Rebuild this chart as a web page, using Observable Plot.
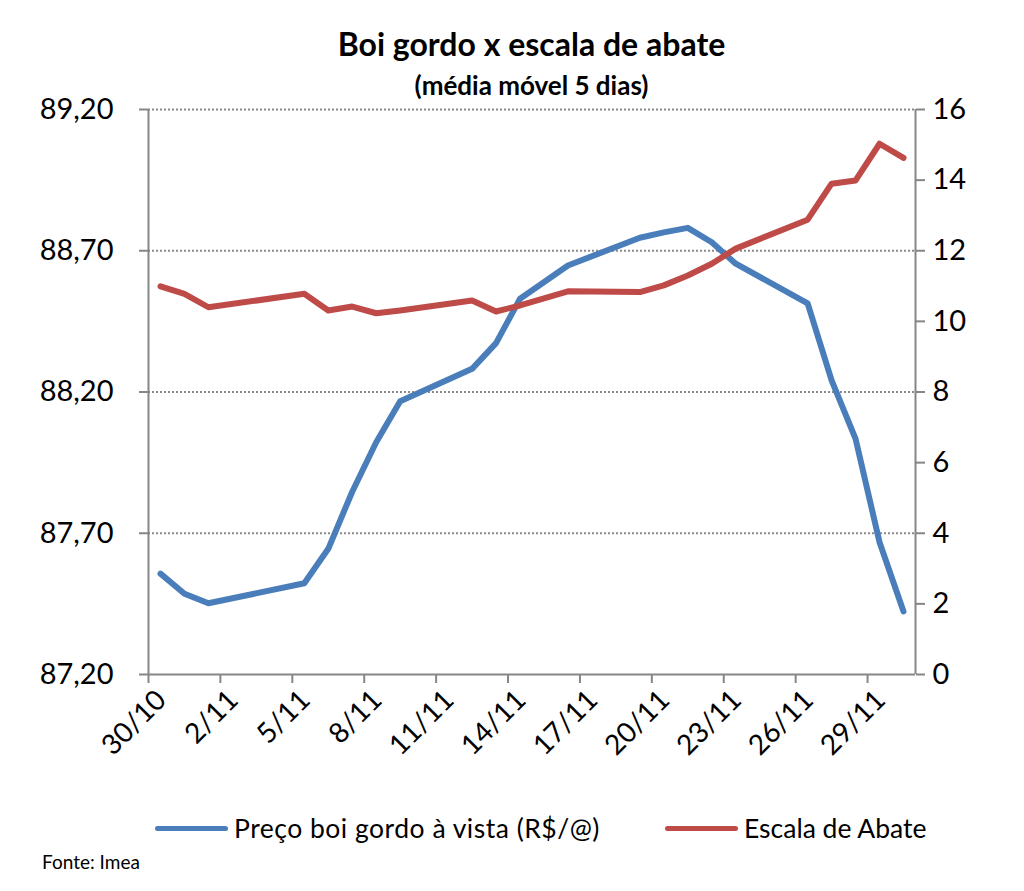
<!DOCTYPE html>
<html>
<head>
<meta charset="utf-8">
<script src="https://cdn.jsdelivr.net/npm/d3@7"></script>
<script src="https://cdn.jsdelivr.net/npm/@observablehq/plot@0.6"></script>
<style>
  html, body { margin: 0; padding: 0; background: #fff; }
  #wrap { position: relative; width: 1024px; height: 891px; font-family: Lato, "Open Sans", sans-serif; color: #000; }
  #title { position: absolute; left: 148px; width: 767px; top: 25px; text-align: center; font-weight: bold; font-size: 32px; line-height: 38px; }
  #subtitle { position: absolute; left: 148px; width: 767px; top: 70px; text-align: center; font-weight: bold; font-size: 26px; line-height: 30px; }
  #chart { position: absolute; left: 0; top: 100px; }
  .leg { position: absolute; top: 812px; display: flex; align-items: center; font-size: 26.5px; line-height: 32px; }
  .sw { width: 73px; height: 5px; border-radius: 3px; margin-right: 6px; }
  #source { position: absolute; left: 42px; top: 850px; font-size: 19px; line-height: 24px; }
</style>
</head>
<body>
<div id="wrap">
  <div id="title">Boi gordo x escala de abate</div>
  <div id="subtitle">(média móvel 5 dias)</div>
  <div id="chart"></div>
  <div class="leg" style="left:155px"><div class="sw" style="background:#4A7EBB"></div><span style="letter-spacing:0.5px">Preço boi gordo à vista (R$/@)</span></div>
  <div class="leg" style="left:665px"><div class="sw" style="background:#BE4B48"></div><span>Escala de Abate</span></div>
  <div id="source">Fonte: Imea</div>
</div>
<script>
// ---- data ----
const dates = ["2012-10-30","2012-10-31","2012-11-01","2012-11-05","2012-11-06","2012-11-07","2012-11-08","2012-11-09",
  "2012-11-12","2012-11-13","2012-11-14","2012-11-16","2012-11-19","2012-11-20","2012-11-21","2012-11-22","2012-11-23",
  "2012-11-26","2012-11-27","2012-11-28","2012-11-29","2012-11-30"];
const preco = [87.557, 87.486, 87.452, 87.523, 87.645, 87.847, 88.022, 88.167,
  88.282, 88.373, 88.530, 88.648, 88.746, 88.765, 88.781, 88.730, 88.654,
  88.514, 88.241, 88.034, 87.668, 87.423];
const escala = [10.99, 10.78, 10.40, 10.78, 10.31, 10.42, 10.23, 10.31,
  10.59, 10.28, 10.45, 10.85, 10.83, 11.02, 11.30, 11.63, 12.06,
  12.88, 13.90, 13.99, 15.03, 14.63];
const leftTicks = [87.2, 87.7, 88.2, 88.7, 89.2];
const rightTicks = [0, 2, 4, 6, 8, 10, 12, 14, 16];
const xTickLabels = ["30/10","2/11","5/11","8/11","11/11","14/11","17/11","20/11","23/11","26/11","29/11"];
const xStart = "2012-10-30", xEnd = "2012-12-01";

// ---- derived ----
const DAY = 864e5;
const parse = s => new Date(s + "T00:00:00Z");
const rows = dates.map((d, i) => ({date: new Date(parse(d).getTime() + DAY / 2), preco: preco[i], escala: escala[i]}));
const leftMin = leftTicks[0], leftMax = leftTicks[leftTicks.length - 1];
const rightMin = rightTicks[0], rightMax = rightTicks[rightTicks.length - 1];
const toLeft = v => leftMin + (v - rightMin) * (leftMax - leftMin) / (rightMax - rightMin);
const fromLeft = p => rightMin + (p - leftMin) * (rightMax - rightMin) / (leftMax - leftMin);
const xTicks = xTickLabels.map(l => { const [d, m] = l.split("/").map(Number); return new Date(Date.UTC(2012, m - 1, d)); });

const axisColor = "#868686";
const chart = Plot.plot({
  width: 1024,
  height: 700,
  marginTop: 9,
  marginBottom: 126,
  marginLeft: 148,
  marginRight: 109,
  style: {fontFamily: "Lato, 'Open Sans', sans-serif", background: "#fff", color: "#000", overflow: "visible"},
  x: {type: "utc", domain: [parse(xStart), parse(xEnd)]},
  y: {domain: [leftMin, leftMax]},
  marks: [
    Plot.ruleY(leftTicks.slice(1), {stroke: "#8a8a8a", strokeWidth: 2, strokeDasharray: "2,2"}),
    Plot.ruleX([parse(xStart), parse(xEnd)], {stroke: axisColor, strokeWidth: 2}),
    Plot.ruleY([leftMin], {stroke: axisColor, strokeWidth: 2}),
    Plot.axisY({ticks: leftTicks, tickFormat: d => d.toFixed(2).replace(".", ","), tickSize: 9, tickPadding: 26,
      stroke: axisColor, strokeWidth: 2, fill: "#000", fontSize: 29, label: null}),
    Plot.axisY(rightTicks.map(toLeft), {anchor: "right", tickFormat: p => String(Math.round(fromLeft(p))),
      tickSize: 9, tickPadding: 8, stroke: axisColor, strokeWidth: 2, fill: "#000", fontSize: 29, label: null}),
    Plot.axisX({ticks: xTicks, tickFormat: () => "", tickSize: 9, stroke: axisColor, strokeWidth: 2, label: null}),
    Plot.axisX({ticks: xTicks, tickFormat: (d, i) => xTickLabels[i], tickRotate: -45, tickSize: 0, tickPadding: 21,
      textAnchor: "end", dx: 13, fill: "#000", fontSize: 28, label: null}),
    Plot.line(rows, {x: "date", y: "preco", stroke: "#4A7EBB", strokeWidth: 6, strokeLinecap: "round", strokeLinejoin: "round"}),
    Plot.line(rows, {x: "date", y: d => toLeft(d.escala), stroke: "#BE4B48", strokeWidth: 6, strokeLinecap: "round", strokeLinejoin: "round"})
  ]
});
document.getElementById("chart").appendChild(chart);
</script>
</body>
</html>
